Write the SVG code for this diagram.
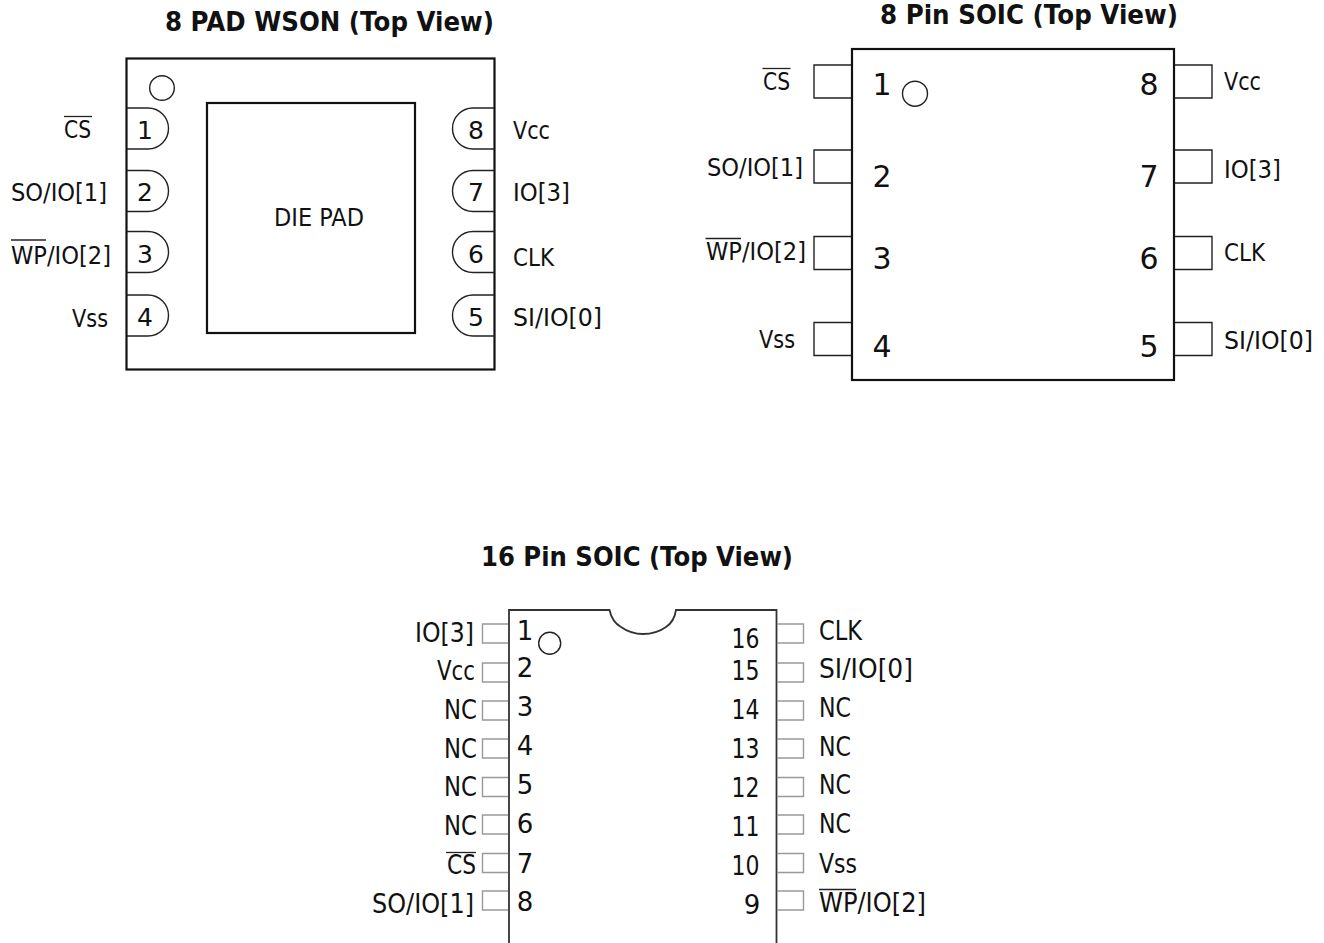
<svg xmlns="http://www.w3.org/2000/svg" width="1324" height="943" viewBox="0 0 1324 943">
<style>
text{font-family:"DejaVu Sans","Liberation Sans",sans-serif;fill:#111}
.t{font-size:26px;font-weight:bold}
.l{font-size:25px}
.l2{font-size:26px}
.n{font-size:25px;text-anchor:middle}
.n8{font-size:30px;text-anchor:middle}
.n16{font-size:26px;text-anchor:middle}
.b{fill:none;stroke:#111;stroke-width:2.2;stroke-linejoin:miter}
.p{fill:none;stroke:#222;stroke-width:1.4}
.g{fill:none;stroke:#999;stroke-width:1.4}
.o{stroke:#222;stroke-width:1.3;fill:none}
</style>
<rect width="1324" height="943" fill="#fff"/>

<g id="wson">
<text class="t" x="165" y="31" textLength="329" lengthAdjust="spacingAndGlyphs">8 PAD WSON (Top View)</text>
<rect class="b" x="126.500" y="58.500" width="368" height="311"/>
<rect class="b" x="207" y="103" width="208" height="230"/>
<circle class="p" cx="162" cy="88" r="12.300"/>
<path class="p" d="M127 108H148A20.500 20.500 0 0 1 148 149H127"/>
<path class="p" d="M127 170.500H148A20.500 20.500 0 0 1 148 211.500H127"/>
<path class="p" d="M127 231.500H148A20.500 20.500 0 0 1 148 272.500H127"/>
<path class="p" d="M127 295H148A20.500 20.500 0 0 1 148 336H127"/>
<path class="p" d="M494 108H473A20.500 20.500 0 0 0 473 149H494"/>
<path class="p" d="M494 170.500H473A20.500 20.500 0 0 0 473 211.500H494"/>
<path class="p" d="M494 231.500H473A20.500 20.500 0 0 0 473 272.500H494"/>
<path class="p" d="M494 295H473A20.500 20.500 0 0 0 473 336H494"/>
<text class="n" x="145" y="139">1</text>
<text class="n" x="145" y="201">2</text>
<text class="n" x="145" y="263">3</text>
<text class="n" x="145" y="326">4</text>
<text class="n" x="476" y="139">8</text>
<text class="n" x="476" y="201">7</text>
<text class="n" x="476" y="263">6</text>
<text class="n" x="476" y="326">5</text>
<text class="l" x="64" y="138" textLength="27" lengthAdjust="spacingAndGlyphs">CS</text>
<path class="o" d="M64 116.500H92"/>
<text class="l" x="11" y="200.500" textLength="96" lengthAdjust="spacingAndGlyphs">SO/IO[1]</text>
<text class="l" x="11" y="264" textLength="100" lengthAdjust="spacingAndGlyphs">WP/IO[2]</text>
<path class="o" d="M11 240H46"/>
<text class="l" x="72" y="326.500" textLength="36" lengthAdjust="spacingAndGlyphs">Vss</text>
<text class="l" x="513" y="139" textLength="37" lengthAdjust="spacingAndGlyphs">Vcc</text>
<text class="l" x="513" y="201" textLength="57" lengthAdjust="spacingAndGlyphs">IO[3]</text>
<text class="l" x="513" y="266" textLength="41" lengthAdjust="spacingAndGlyphs">CLK</text>
<text class="l" x="513" y="325.500" textLength="89" lengthAdjust="spacingAndGlyphs">SI/IO[0]</text>
<text class="l" x="274" y="226" textLength="90" lengthAdjust="spacingAndGlyphs">DIE PAD</text>
</g>

<g id="soic8">
<text class="t" x="880" y="24" textLength="298" lengthAdjust="spacingAndGlyphs">8 Pin SOIC (Top View)</text>
<rect class="b" x="852" y="49" width="322" height="331"/>
<circle class="p" cx="915" cy="93.700" r="12.500"/>
<path class="p" d="M851 65H814V98H851"/>
<path class="p" d="M851 150H814V183H851"/>
<path class="p" d="M851 236.500H814V269.500H851"/>
<path class="p" d="M851 322.500H814V355.500H851"/>
<path class="p" d="M1175 65H1212V98H1175"/>
<path class="p" d="M1175 150H1212V183H1175"/>
<path class="p" d="M1175 236.500H1212V269.500H1175"/>
<path class="p" d="M1175 322.500H1212V355.500H1175"/>
<text class="n8" x="882" y="95">1</text>
<text class="n8" x="882" y="187">2</text>
<text class="n8" x="882" y="269">3</text>
<text class="n8" x="882" y="357">4</text>
<text class="n8" x="1149" y="95">8</text>
<text class="n8" x="1149" y="187">7</text>
<text class="n8" x="1149" y="269">6</text>
<text class="n8" x="1149" y="357">5</text>
<text class="l" x="763" y="90" textLength="27" lengthAdjust="spacingAndGlyphs">CS</text>
<path class="o" d="M762.500 68.500H790.500"/>
<text class="l" x="707" y="175.500" textLength="96" lengthAdjust="spacingAndGlyphs">SO/IO[1]</text>
<text class="l" x="706" y="260" textLength="100" lengthAdjust="spacingAndGlyphs">WP/IO[2]</text>
<path class="o" d="M705.500 238.500H741"/>
<text class="l" x="759" y="347.500" textLength="36" lengthAdjust="spacingAndGlyphs">Vss</text>
<text class="l" x="1224" y="90" textLength="37" lengthAdjust="spacingAndGlyphs">Vcc</text>
<text class="l" x="1224" y="178" textLength="57" lengthAdjust="spacingAndGlyphs">IO[3]</text>
<text class="l" x="1224" y="260.500" textLength="41" lengthAdjust="spacingAndGlyphs">CLK</text>
<text class="l" x="1224" y="349" textLength="89" lengthAdjust="spacingAndGlyphs">SI/IO[0]</text>
</g>

<g id="soic16">
<text class="t" x="481" y="566" textLength="312" lengthAdjust="spacingAndGlyphs">16 Pin SOIC (Top View)</text>
<path fill="none" stroke="#333" stroke-width="1.800" d="M509 943V610H609.500C611 617 614 623 621 627C628 632 636 634 643 634C651 634 659 632 666 627C672 623 675 617 676 610H776.500V943"/>
<circle class="p" cx="549.700" cy="643.300" r="11"/>
<path class="g" d="M508 624H482.500V643H508"/>
<path class="g" d="M508 663H482.500V682H508"/>
<path class="g" d="M508 701H482.500V720H508"/>
<path class="g" d="M508 739H482.500V758H508"/>
<path class="g" d="M508 777.500H482.500V796.500H508"/>
<path class="g" d="M508 815H482.500V834H508"/>
<path class="g" d="M508 853.500H482.500V872.500H508"/>
<path class="g" d="M508 891H482.500V910H508"/>
<path class="g" d="M777.500 624H803.500V643H777.500"/>
<path class="g" d="M777.500 663H803.500V682H777.500"/>
<path class="g" d="M777.500 701H803.500V720H777.500"/>
<path class="g" d="M777.500 739H803.500V758H777.500"/>
<path class="g" d="M777.500 777.500H803.500V796.500H777.500"/>
<path class="g" d="M777.500 815H803.500V834H777.500"/>
<path class="g" d="M777.500 853.500H803.500V872.500H777.500"/>
<path class="g" d="M777.500 891H803.500V910H777.500"/>
<text class="n16" x="525" y="640">1</text>
<text class="n16" x="525" y="677">2</text>
<text class="n16" x="525" y="716">3</text>
<text class="n16" x="525" y="755">4</text>
<text class="n16" x="525" y="793.500">5</text>
<text class="n16" x="525" y="832.500">6</text>
<text class="n16" x="525" y="872.500">7</text>
<text class="n16" x="525" y="911">8</text>
<text class="n16" x="745.500" y="648" textLength="28" lengthAdjust="spacingAndGlyphs">16</text>
<text class="n16" x="745.500" y="680" textLength="28" lengthAdjust="spacingAndGlyphs">15</text>
<text class="n16" x="745.500" y="719" textLength="28" lengthAdjust="spacingAndGlyphs">14</text>
<text class="n16" x="745.500" y="758" textLength="28" lengthAdjust="spacingAndGlyphs">13</text>
<text class="n16" x="745.500" y="797" textLength="28" lengthAdjust="spacingAndGlyphs">12</text>
<text class="n16" x="745.500" y="836" textLength="28" lengthAdjust="spacingAndGlyphs">11</text>
<text class="n16" x="745.500" y="875" textLength="28" lengthAdjust="spacingAndGlyphs">10</text>
<text class="n16" x="752" y="914">9</text>
<text class="l2" x="415" y="641.500" textLength="59" lengthAdjust="spacingAndGlyphs">IO[3]</text>
<text class="l2" x="437" y="680" textLength="38" lengthAdjust="spacingAndGlyphs">Vcc</text>
<text class="l2" x="444" y="719" textLength="33" lengthAdjust="spacingAndGlyphs">NC</text>
<text class="l2" x="444" y="757.500" textLength="33" lengthAdjust="spacingAndGlyphs">NC</text>
<text class="l2" x="444" y="796" textLength="33" lengthAdjust="spacingAndGlyphs">NC</text>
<text class="l2" x="444" y="835" textLength="33" lengthAdjust="spacingAndGlyphs">NC</text>
<text class="l2" x="447" y="874" textLength="29" lengthAdjust="spacingAndGlyphs">CS</text>
<path class="o" d="M446 852.500H476"/>
<text class="l2" x="372" y="913" textLength="102" lengthAdjust="spacingAndGlyphs">SO/IO[1]</text>
<text class="l2" x="819" y="640" textLength="43" lengthAdjust="spacingAndGlyphs">CLK</text>
<text class="l2" x="819" y="677.500" textLength="94" lengthAdjust="spacingAndGlyphs">SI/IO[0]</text>
<text class="l2" x="819" y="716.500" textLength="32" lengthAdjust="spacingAndGlyphs">NC</text>
<text class="l2" x="819" y="755.500" textLength="32" lengthAdjust="spacingAndGlyphs">NC</text>
<text class="l2" x="819" y="793.500" textLength="32" lengthAdjust="spacingAndGlyphs">NC</text>
<text class="l2" x="819" y="832.500" textLength="32" lengthAdjust="spacingAndGlyphs">NC</text>
<text class="l2" x="819" y="872.500" textLength="38" lengthAdjust="spacingAndGlyphs">Vss</text>
<text class="l2" x="819" y="911.500" textLength="107" lengthAdjust="spacingAndGlyphs">WP/IO[2]</text>
<path class="o" d="M819 889.500H856"/>
</g>
</svg>
